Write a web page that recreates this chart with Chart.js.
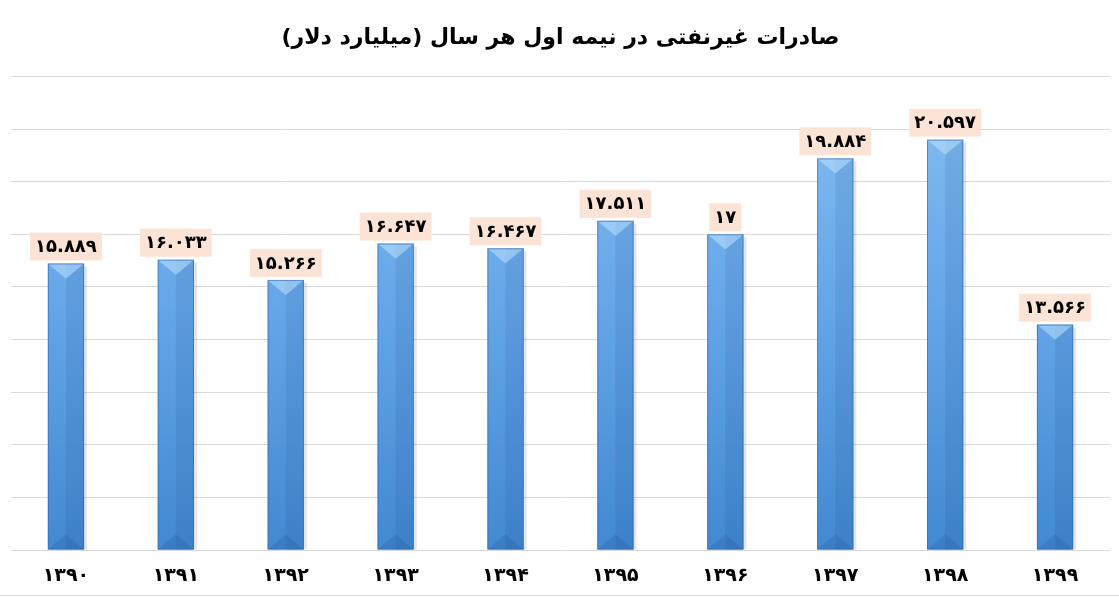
<!DOCTYPE html>
<html>
<head>
<meta charset="utf-8">
<script src="https://cdn.jsdelivr.net/npm/chart.js@4.4.1/dist/chart.umd.min.js"></script>
<style>
  html, body { margin: 0; padding: 0; background: #fff; }
  #wrap { width: 1119px; height: 597px; }
</style>
</head>
<body>
<div id="wrap"><canvas id="chartSaderat" dir="rtl"></canvas></div>
<script>
// ── Datos ─────────────────────────────────────────────────────────────────
var years  = ['۱۳۹۰', '۱۳۹۱', '۱۳۹۲', '۱۳۹۳', '۱۳۹۴', '۱۳۹۵', '۱۳۹۶', '۱۳۹۷', '۱۳۹۸', '۱۳۹۹'];
var values = [15.889, 16.033, 15.266, 16.647, 16.467, 17.511, 17, 19.884, 20.597, 13.566];
var yMin = 5, yMax = 23, yStep = 2;
var titulo = 'صادرات غیرنفتی در نیمه اول هر سال (میلیارد دلار)';

var FONT = '"DejaVu Sans", "Noto Sans", sans-serif';

function faDigits(v) {
    var d = '۰۱۲۳۴۵۶۷۸۹';
    return String(v).replace(/[0-9]/g, function (c) { return d[+c]; });
}

// ── Relleno de barras (degradado vertical) ─────────────────────────────────
function barFill(c) {
    var ca = c.chart.chartArea;
    if (!ca) return '#5b9bd5';
    var g = c.chart.ctx.createLinearGradient(0, ca.top, 0, ca.bottom);
    g.addColorStop(0, '#86c0f2');
    g.addColorStop(0.5, '#64a5e8');
    g.addColorStop(1, '#4189d2');
    return g;
}

// ── Bisel, sombra y etiquetas ──────────────────────────────────────────────
var bevelPlugin = {
    id: 'bevel',
    beforeDatasetsDraw: function (chart) {
        var ctx = chart.ctx;
        chart.getDatasetMeta(0).data.forEach(function (b) {
            var l = b.x - b.width / 2;
            ctx.save();
            ctx.fillStyle = 'rgba(0,0,0,0.10)';
            ctx.fillRect(l + 3, b.y + 3, b.width, b.base - b.y - 3);
            ctx.restore();
        });
    },
    afterDatasetsDraw: function (chart) {
        var ctx = chart.ctx;
        chart.getDatasetMeta(0).data.forEach(function (b) {
            var w = b.width, l = b.x - w / 2, r = b.x + w / 2;
            var t = b.y, bs = b.base, d = w * 0.42;
            ctx.save();
            // cara derecha mas oscura
            ctx.fillStyle = 'rgba(20,60,120,0.10)';
            ctx.fillRect(b.x, t, w / 2, bs - t);
            // bisel superior
            ctx.beginPath();
            ctx.moveTo(l, t); ctx.lineTo(r, t); ctx.lineTo(b.x, t + d); ctx.closePath();
            ctx.fillStyle = 'rgba(190,225,255,0.55)';
            ctx.fill();
            // bisel inferior
            ctx.beginPath();
            ctx.moveTo(l, bs); ctx.lineTo(r, bs); ctx.lineTo(b.x, bs - d); ctx.closePath();
            ctx.fillStyle = 'rgba(20,60,120,0.15)';
            ctx.fill();
            // bordes
            ctx.strokeStyle = 'rgba(50,100,170,0.6)';
            ctx.lineWidth = 1;
            ctx.strokeRect(l + 0.5, t + 0.5, w - 1, bs - t - 1);
            ctx.restore();
        });
    },
    afterDraw: function (chart) {
        var ctx = chart.ctx;
        var ds = chart.data.datasets[0];
        ctx.save();
        ctx.font = 'bold 18px ' + FONT;
        ctx.textAlign = 'center';
        ctx.textBaseline = 'middle';
        chart.getDatasetMeta(0).data.forEach(function (b, i) {
            var txt = faDigits(ds.data[i]);
            var tw = ctx.measureText(txt).width;
            var bw = tw + 10, bh = 28;
            var by = b.y - 3 - bh;
            ctx.fillStyle = '#fbe4d5';
            ctx.fillRect(b.x - bw / 2, by, bw, bh);
            ctx.fillStyle = '#000';
            ctx.fillText(txt, b.x, by + bh / 2 + 1);
        });
        // linea inferior del marco
        ctx.strokeStyle = '#d9d9d9';
        ctx.lineWidth = 1;
        ctx.beginPath();
        ctx.moveTo(0, chart.height - 1.5);
        ctx.lineTo(chart.width, chart.height - 1.5);
        ctx.stroke();
        ctx.restore();
    }
};

new Chart(document.getElementById('chartSaderat').getContext('2d'), {
    type: 'bar',
    data: {
        labels: years,
        datasets: [{
            data: values,
            base: yMin,
            backgroundColor: barFill,
            borderWidth: 0,
            barPercentage: 0.33,
            categoryPercentage: 1
        }]
    },
    options: {
        responsive: true,
        maintainAspectRatio: false,
        animation: false,
        layout: { padding: { left: 11, right: 9, bottom: 0 } },
        plugins: {
            legend: { display: false },
            tooltip: { enabled: false },
            title: {
                display: true,
                text: titulo,
                color: '#000',
                font: { family: FONT, size: 22, weight: 'bold' },
                padding: { top: 25, bottom: 25 }
            }
        },
        scales: {
            x: {
                grid: { display: false },
                border: { display: false },
                ticks: {
                    color: '#000',
                    padding: 7,
                    maxRotation: 0,
                    font: { family: FONT, size: 19, weight: 'bold' }
                },
                afterFit: function (s) { s.height = 47; }
            },
            y: {
                min: yMin,
                max: yMax,
                ticks: { display: false, stepSize: yStep },
                grid: { color: '#d9d9d9', drawTicks: false },
                border: { display: false }
            }
        }
    },
    plugins: [bevelPlugin]
});
</script>
</body>
</html>
